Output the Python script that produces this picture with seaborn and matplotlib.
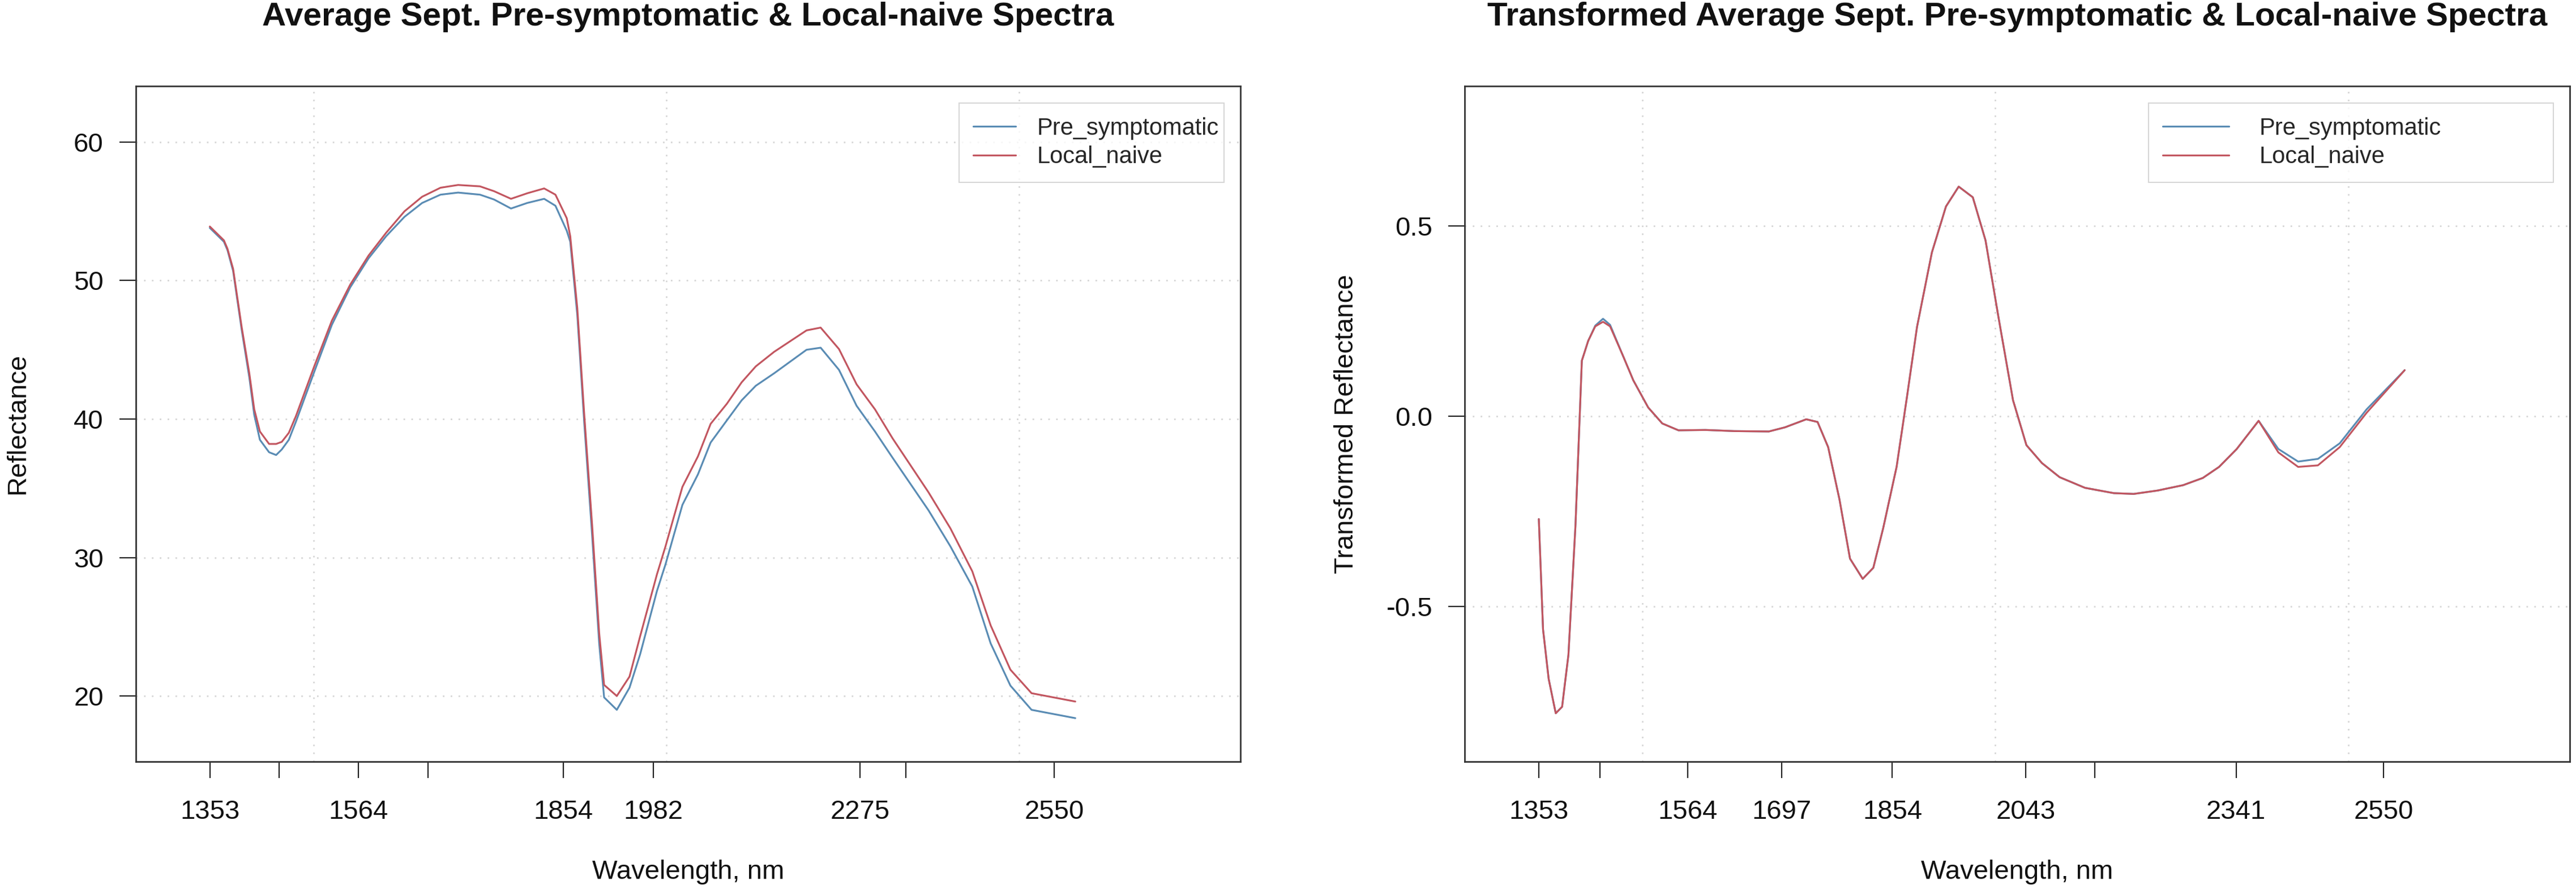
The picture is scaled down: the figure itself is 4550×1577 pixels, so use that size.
import matplotlib
matplotlib.use("Agg")
import matplotlib.pyplot as plt
import pandas as pd
import seaborn as sns

# ---- data ----
groups = ["Pre_symptomatic", "Local_naive"]
colors = ["#5a8cb4", "#c25660"]

raw_wl = [1353, 1373, 1378, 1386, 1398, 1409, 1416, 1424, 1437, 1447, 1455, 1465,
          1475, 1501, 1526, 1552, 1578, 1603, 1629, 1654, 1680, 1705, 1736, 1756,
          1780, 1803, 1827, 1843, 1859, 1864, 1874, 1884, 1895, 1905, 1912, 1930,
          1948, 1963, 1987, 1999, 2023, 2045, 2063, 2086, 2107, 2127, 2153, 2199,
          2219, 2245, 2270, 2296, 2321, 2372, 2403, 2434, 2460, 2488, 2518, 2580]
raw_pre = [53.8, 52.8, 52.2, 50.7, 46.5, 43.0, 40.3, 38.5, 37.6, 37.4, 37.8, 38.5,
           39.8, 43.4, 46.8, 49.5, 51.6, 53.2, 54.6, 55.6, 56.2, 56.35, 56.2, 55.85,
           55.2, 55.6, 55.9, 55.4, 53.6, 52.8, 47.5, 39.6, 31.6, 23.8, 19.9, 19.0,
           20.6, 23.0, 27.6, 29.5, 33.8, 36.0, 38.3, 39.9, 41.35, 42.4, 43.3, 45.0,
           45.15, 43.55, 40.95, 39.1, 37.2, 33.4, 30.8, 27.9, 23.8, 20.75, 19.0, 18.4]
raw_naive = [53.9, 52.9, 52.3, 50.85, 46.7, 43.3, 40.7, 39.1, 38.2, 38.2, 38.35, 39.0,
             40.2, 43.8, 47.1, 49.7, 51.8, 53.45, 55.0, 56.05, 56.7, 56.9, 56.8, 56.45,
             55.9, 56.3, 56.65, 56.2, 54.5, 53.2, 48.0, 40.2, 32.35, 24.55, 20.8, 20.0,
             21.4, 24.3, 28.8, 30.8, 35.1, 37.3, 39.65, 41.1, 42.65, 43.8, 44.85, 46.4,
             46.6, 45.05, 42.5, 40.7, 38.6, 34.7, 32.1, 29.0, 25.1, 21.9, 20.2, 19.6]

tr_wl = [1353, 1359, 1367, 1377, 1386, 1395, 1405, 1414, 1423, 1433, 1444, 1454,
         1472, 1487, 1508, 1528, 1551, 1589, 1630, 1679, 1702, 1732, 1748, 1763,
         1779, 1794, 1812, 1827, 1841, 1860, 1874, 1889, 1910, 1930, 1948, 1968,
         1986, 2004, 2025, 2044, 2066, 2091, 2127, 2168, 2196, 2230, 2266, 2294,
         2317, 2342, 2373, 2401, 2429, 2457, 2488, 2526, 2580]
tr_pre = [-0.27, -0.56, -0.69, -0.78, -0.763, -0.626, -0.285, 0.146, 0.198, 0.238, 0.256, 0.240,
          0.16, 0.094, 0.023, -0.019, -0.037, -0.036, -0.039, -0.040, -0.029, -0.008, -0.015, -0.081,
          -0.218, -0.374, -0.427, -0.398, -0.294, -0.133, 0.042, 0.235, 0.43, 0.551, 0.603, 0.575,
          0.462, 0.264, 0.042, -0.076, -0.123, -0.16, -0.188, -0.202, -0.204, -0.195, -0.181, -0.162,
          -0.133, -0.086, -0.012, -0.086, -0.119, -0.112, -0.071, 0.018, 0.121]
tr_naive = [-0.27, -0.56, -0.69, -0.78, -0.763, -0.626, -0.285, 0.146, 0.198, 0.236, 0.248, 0.236,
            0.16, 0.094, 0.023, -0.019, -0.037, -0.036, -0.039, -0.040, -0.029, -0.008, -0.015, -0.081,
            -0.218, -0.374, -0.427, -0.398, -0.294, -0.133, 0.042, 0.235, 0.43, 0.551, 0.603, 0.575,
            0.462, 0.264, 0.042, -0.076, -0.123, -0.16, -0.188, -0.202, -0.204, -0.195, -0.181, -0.162,
            -0.133, -0.086, -0.012, -0.095, -0.133, -0.129, -0.081, 0.009, 0.121]

raw_ticks = [1353, 1451, 1564, 1662, 1854, 1982, 2275, 2340, 2550]
raw_ticklabels = ["1353", "", "1564", "", "1854", "1982", "2275", "", "2550"]
tr_ticks = [1353, 1440, 1564, 1697, 1854, 2043, 2141, 2341, 2550]
tr_ticklabels = ["1353", "", "1564", "1697", "1854", "2043", "", "2341", "2550"]


def long_df(wl, pre, naive):
    return pd.concat([
        pd.DataFrame({"wl": wl, "val": pre, "group": groups[0]}),
        pd.DataFrame({"wl": wl, "val": naive, "group": groups[1]}),
    ])


sns.set_style("white")
plt.rcParams["font.family"] = ["Liberation Sans", "DejaVu Sans"]

fig = plt.figure(figsize=(45.5, 15.77), dpi=100)
ax1 = fig.add_axes([0.0527, 0.1471, 0.4288, 0.7565])
ax2 = fig.add_axes([0.5686, 0.1471, 0.4290, 0.7565])


def draw_panel(ax, df, title, ylabel, ticks, ticklabels, yticks, ylim,
               legx, handlelen, textpad):
    sns.lineplot(data=df, x="wl", y="val", hue="group", hue_order=groups,
                 palette=colors, estimator=None, sort=False, linewidth=2.3, ax=ax)
    ax.set_xlim(1248, 2814)
    ax.set_ylim(*ylim)
    ax.set_xticks(ticks)
    ax.set_xticklabels(ticklabels)
    ax.set_xticks([1500, 2000, 2500], minor=True)
    ax.set_yticks(yticks)
    ax.tick_params(axis="x", which="major", bottom=True, top=False)
    ax.tick_params(axis="y", which="major", left=True, right=False)
    ax.tick_params(axis="both", which="major", direction="out", length=21,
                   width=1.6, color="#222222", labelsize=34, labelcolor="#111111")
    ax.tick_params(axis="x", which="major", pad=27)
    ax.tick_params(axis="y", which="major", pad=20)
    ax.tick_params(axis="x", which="minor", length=0, bottom=False)
    ax.grid(False)
    ax.xaxis.grid(True, which="minor", color="#d6d6d6", linestyle=(0, (1, 4)), linewidth=2)
    ax.yaxis.grid(True, which="major", color="#d6d6d6", linestyle=(0, (1, 4)), linewidth=2)
    for s in ax.spines.values():
        s.set_visible(True)
        s.set_color("#333333")
        s.set_linewidth(2.0)
    ax.set_xlabel("Wavelength, nm", fontsize=34, va="center", color="#111111")
    ax.xaxis.set_label_coords(0.5, -0.1635)
    ax.set_ylabel(ylabel, fontsize=34, va="center", color="#111111")
    ax.yaxis.set_label_coords(-0.1071, 0.5)
    ax.set_title(title, fontsize=42, fontweight="bold", y=1.0956, va="center",
                 color="#111111")
    handles, labels = ax.get_legend_handles_labels()
    leg = ax.legend(handles, labels, loc="upper left", mode="expand",
                    bbox_to_anchor=(legx, 0.6, 0.9851 - legx, 0.3749),
                    borderaxespad=0, fontsize=30, handlelength=handlelen,
                    handletextpad=textpad, borderpad=0.6, labelspacing=0.25,
                    frameon=True, fancybox=False, edgecolor="#cccccc")
    leg.get_frame().set_linewidth(1.5)
    for ln in leg.get_lines():
        ln.set_linewidth(2.3)


draw_panel(ax1, long_df(raw_wl, raw_pre, raw_naive),
           "Average Sept. Pre-symptomatic & Local-naive Spectra", "Reflectance",
           raw_ticks, raw_ticklabels, [20, 30, 40, 50, 60], (15.26, 64.04),
           0.7453, 1.8, 0.9)
draw_panel(ax2, long_df(tr_wl, tr_pre, tr_naive),
           "Transformed Average Sept. Pre-symptomatic & Local-naive Spectra",
           "Transformed Reflectance",
           tr_ticks, tr_ticklabels, [-0.5, 0.0, 0.5], (-0.907, 0.867),
           0.6189, 2.8, 1.3)
ax2.set_yticklabels(["-0.5", "0.0", "0.5"])

fig.savefig("out.png", dpi=100)
